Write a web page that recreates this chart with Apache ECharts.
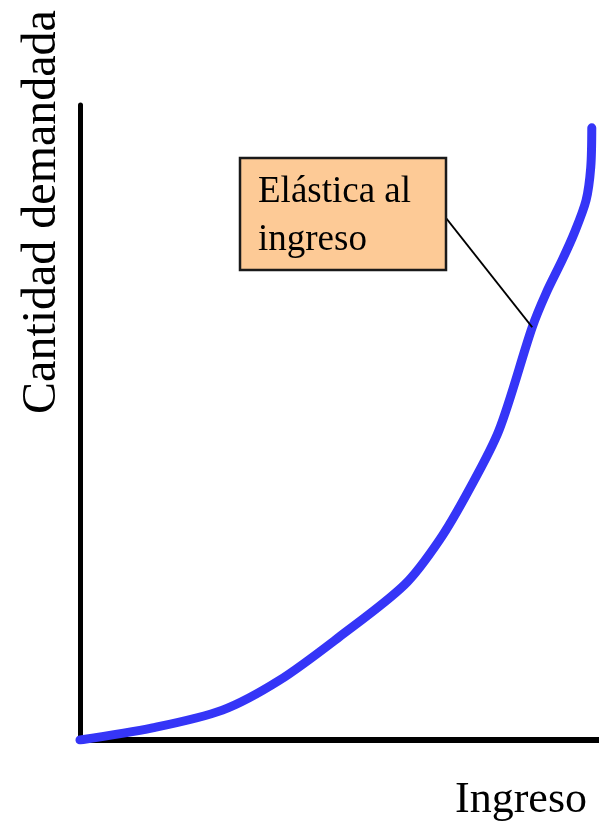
<!DOCTYPE html>
<html>
<head>
<meta charset="UTF-8">
<title>Elástica al ingreso</title>
<style>
  html, body { margin: 0; padding: 0; background: #fff; }
  #main { width: 599px; height: 827px; }
</style>
<script src="https://cdn.jsdelivr.net/npm/echarts@6/dist/echarts.min.js"></script>
</head>
<body>
<div id="main"></div>
<script>
// curva de Engel (ingreso vs cantidad demandada)
var ingreso = [0, 14, 27.5, 38.5, 50, 62.6, 69.4, 75.1, 80.9, 87.3, 90.0, 93.1, 95.4, 97.7, 98.6, 98.8];
var cantidad = [0, 1.9, 4.7, 9.4, 16.2, 24.4, 31.5, 39.4, 48.8, 65.0, 70.4, 75.6, 79.8, 85.0, 90.2, 96.4];
var etiqueta = ['Elástica al', 'ingreso'];
var puntoEtiqueta = 9; // indice del punto donde apunta la linea

var serif = '"Liberation Serif", "DejaVu Serif", serif';

var chart = echarts.init(document.getElementById('main'));

var datos = ingreso.map(function (x, i) { return [x, cantidad[i]]; });

var option = {
  animation: false,
  grid: { left: 80, right: 1, top: 105, bottom: 87 },
  xAxis: {
    type: 'value', min: 0, max: 100,
    axisLine: { show: true, onZero: false, lineStyle: { color: '#000', width: 6 } },
    axisTick: { show: false }, axisLabel: { show: false }, splitLine: { show: false }
  },
  yAxis: {
    type: 'value', min: 0, max: 100,
    axisLine: { show: true, onZero: false, lineStyle: { color: '#000', width: 5 } },
    axisTick: { show: false }, axisLabel: { show: false }, splitLine: { show: false }
  },
  series: [{
    type: 'line',
    data: datos,
    smooth: 0.3,
    showSymbol: false,
    lineStyle: { color: '#3535f7', width: 9, cap: 'round', join: 'round' },
    z: 3
  }]
};
chart.setOption(option);

var destino = chart.convertToPixel({ gridIndex: 0 }, datos[puntoEtiqueta]);

chart.setOption({
  graphic: [
    {
      type: 'text', x: 42, y: 212, rotation: Math.PI / 2,
      style: { text: 'Cantidad demandada', font: '48px ' + serif, fill: '#000',
               textAlign: 'center', textVerticalAlign: 'middle' }
    },
    {
      type: 'text', x: 587, y: 800,
      style: { text: 'Ingreso', font: '44px ' + serif, fill: '#000',
               textAlign: 'right', textVerticalAlign: 'middle' }
    },
    {
      type: 'line', z: 5,
      shape: { x1: 446, y1: 218, x2: destino[0], y2: destino[1] },
      style: { stroke: '#000', lineWidth: 2 }
    },
    {
      type: 'rect', z: 6,
      shape: { x: 240, y: 158, width: 206, height: 112 },
      style: { fill: '#fdca96', stroke: '#1a1a1a', lineWidth: 2.5 }
    },
    {
      type: 'text', z: 7, x: 258, y: 192,
      style: { text: etiqueta[0], font: '37px ' + serif, fill: '#000',
               textAlign: 'left', textVerticalAlign: 'middle' }
    },
    {
      type: 'text', z: 7, x: 258, y: 240,
      style: { text: etiqueta[1], font: '37px ' + serif, fill: '#000',
               textAlign: 'left', textVerticalAlign: 'middle' }
    }
  ]
});
</script>
</body>
</html>
